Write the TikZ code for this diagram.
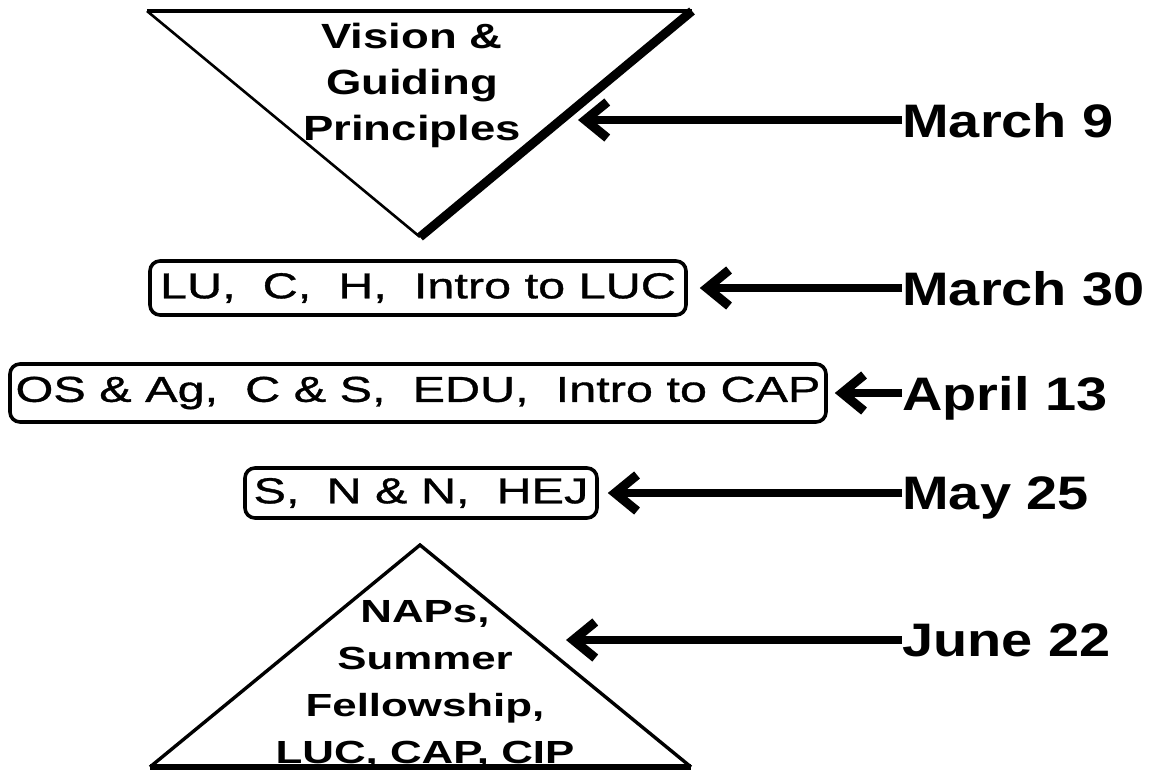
\documentclass[tikz,border=0pt]{standalone}
\usepackage{fontspec}
\setmainfont{Liberation Sans}
\newfontfamily\trifont[FakeStretch=1.3]{Liberation Sans}
\newfontfamily\trifontb[FakeStretch=1.37]{Liberation Sans}
\newfontfamily\boxfont[FakeStretch=1.35,FakeBold=1]{Liberation Sans}
\newfontfamily\datefont[FakeStretch=1.19]{Liberation Sans}
\usetikzlibrary{arrows.meta}
\tikzset{
  tritext/.style={font=\trifont\bfseries\fontsize{17.5}{23}\selectfont, align=center, inner sep=0pt, anchor=north},
  tritextb/.style={font=\trifontb\bfseries\fontsize{16}{23.5}\selectfont, align=center, inner sep=0pt, anchor=north},
  boxtext/.style={draw, line width=1.8pt, rounded corners=5pt, fill=white,
    font=\boxfont\fontsize{18}{22}\selectfont, inner sep=0pt},
  datetext/.style={font=\datefont\bfseries\fontsize{23.5}{28}\selectfont, inner sep=0pt, anchor=west, text depth=0pt},
  arr/.style={line width=3.6pt, -{Straight Barb[length=11pt,width=18pt,line width=4.6pt]}},
  thinedge/.style={line width=1.3pt},
}
\begin{document}
\begin{tikzpicture}[x=0.5pt,y=-0.5pt]
\useasboundingbox (0,0) rectangle (1164,776);

% top inverted triangle
\coordinate (tl) at (147,11);
\coordinate (tr) at (692,11);
\coordinate (tv) at (420,237);
\fill[white] (tl) -- (tr) -- (tv) -- cycle;
\draw[line width=1.6pt] (tl) -- (tr);
\draw[thinedge] (tl) -- (tv);
\draw[line width=4.5pt] (tr) -- (tv);
\node[tritext] (vis) at (412,23) {Vision \&\\Guiding\\Principles};

% bottom triangle
\coordinate (ba) at (420,545);
\coordinate (bl) at (150,767);
\coordinate (br) at (691,767);
\draw[line width=1.7pt, line join=miter] (bl) -- (ba) -- (br);
\draw[line width=3.2pt] (bl) -- (br);
\node[tritextb] (naps) at (425,600) {NAPs,\\Summer\\Fellowship,\\LUC, CAP, CIP};

% boxes
\node[boxtext, minimum width=268pt, minimum height=27pt] (b1) at (418,288) {LU,~ C,~ H,~ Intro to LUC};
\node[boxtext, minimum width=408pt, minimum height=29pt] (b2) at (418,393) {OS \& Ag,~ C \& S,~ EDU,~ Intro to CAP};
\node[boxtext, minimum width=176pt, minimum height=25pt] (b3) at (421,493) {S,~ N \& N,~ HEJ};

% dates
\node[datetext] (d1) at (902,120) {March 9};
\node[datetext] (d2) at (902,288) {March 30};
\node[datetext] (d3) at (902,393) {April 13};
\node[datetext] (d4) at (902,493) {May 25};
\node[datetext] (d5) at (902,640) {June 22};

% arrow tips
\coordinate (t1) at (578,120);
\coordinate (t5) at (566,640);

\draw[arr] (d1.west) -- (t1);
\draw[arr, shorten >=6pt] (d2.west) -- (b1.east);
\draw[arr, shorten >=3.5pt] (d3.west) -- (b2.east);
\draw[arr, shorten >=4.5pt] (d4.west) -- (b3.east);
\draw[arr] (d5.west) -- (t5);
\end{tikzpicture}
\end{document}
